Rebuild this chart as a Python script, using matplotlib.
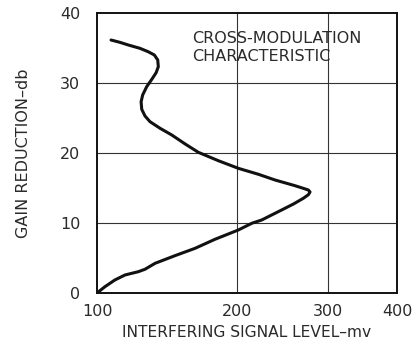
import numpy as np
import matplotlib
matplotlib.use("Agg")
import matplotlib.pyplot as plt

# gain reduction (db) vs interfering signal level (mv)
gain_db = [0.0, 0.9, 1.86, 2.57, 2.81, 3.04, 3.39, 4.24, 5.33, 6.38, 7.67,
           9.0, 9.96, 10.43, 11.86, 12.71, 13.53, 14.04, 14.43, 14.71, 14.95,
           15.33, 16.14, 16.96, 17.81, 18.9, 20.1, 21.29, 22.57, 23.53, 24.47,
           25.29, 26.24, 27.33, 28.29, 29.47, 30.53, 31.47, 32.33, 33.29,
           34.0, 34.47, 34.95, 35.43, 35.81, 36.14]
signal_mv = [100, 104.3, 109.9, 115.8, 119.9, 124.0, 128.3, 135.0, 149.0,
             164.3, 180.7, 201.6, 214.5, 224.4, 245.4, 258.5, 270.0, 276.0,
             278.0, 276.0, 270.0, 260.3, 238.3, 221.0, 201.6, 183.6, 166.9,
             156.6, 146.7, 138.4, 131.6, 128.3, 126.2, 125.8, 126.8, 129.4,
             132.8, 135.7, 137.2, 136.8, 134.5, 130.4, 125.1, 117.8, 112.8,
             107.7]

x_ticks = [100, 200, 300, 400]
y_ticks = [0, 10, 20, 30, 40]

# compressed signal axis (between linear and log spacing)
POW = 0.2
fwd = lambda v: np.power(np.clip(v, 1e-9, None), POW)
inv = lambda u: np.power(np.clip(u, 1e-9, None), 1.0 / POW)

fig = plt.figure(figsize=(4.16, 3.43), dpi=100)
ax = fig.add_axes([0.2332, 0.1458, 0.7211, 0.8163])

ax.set_xscale("function", functions=(fwd, inv))
ax.set_xlim(100, 400)
ax.set_ylim(0, 40)
ax.set_xticks(x_ticks)
ax.set_yticks(y_ticks)
ax.set_xticklabels([str(t) for t in x_ticks])
ax.set_yticklabels([str(t) for t in y_ticks])
ax.minorticks_off()
ax.tick_params(length=0, labelsize=11.5, colors="#2a2a2a")
ax.tick_params(axis="x", pad=8)
ax.tick_params(axis="y", pad=12)

for t in x_ticks[1:-1]:
    ax.axvline(t, color="#333333", lw=0.8, zorder=1)
for t in y_ticks[1:-1]:
    ax.axhline(t, color="#333333", lw=0.8, zorder=1)

for s in ax.spines.values():
    s.set_linewidth(1.4)
    s.set_color("#111111")

ax.plot(signal_mv, gain_db, color="#111111", lw=2.2,
        solid_joinstyle="round", solid_capstyle="round", zorder=3)

ax.text(0.317, 0.935, "CROSS-MODULATION\nCHARACTERISTIC", transform=ax.transAxes,
        fontsize=11.5, va="top", ha="left", color="#2a2a2a", linespacing=1.2)

ax.set_xlabel("INTERFERING SIGNAL LEVEL\u2013mv", fontsize=11.2, color="#2a2a2a",
              labelpad=4)
ax.set_ylabel("GAIN REDUCTION\u2013db", fontsize=11.5, color="#2a2a2a", labelpad=21)

fig.savefig("out.png", dpi=100, facecolor="white")
